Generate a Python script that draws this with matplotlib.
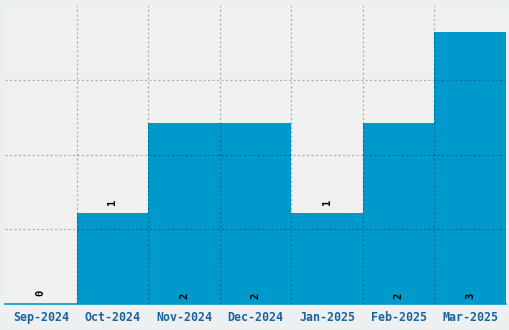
import matplotlib
matplotlib.use("Agg")
import matplotlib.pyplot as plt
import numpy as np

categories = ["Sep-2024", "Oct-2024", "Nov-2024", "Dec-2024", "Jan-2025", "Feb-2025", "Mar-2025"]
values = [0, 1, 2, 2, 1, 2, 3]

fig = plt.figure(figsize=(5.1, 3.3), dpi=100, facecolor="#edf0f1")
ax = fig.add_axes([5/510, 26/330, 501/510, 299/330])
ax.set_facecolor("#f0f0f0")

x = np.arange(len(categories))
ax.bar(x, values, width=1.0, color="#0099cc", zorder=1)

ax.set_xlim(-0.5, len(categories) - 0.5)
ax.set_ylim(0, 3.3)
ax.set_xticks(x)
ax.set_xticklabels(categories, fontfamily="DejaVu Sans Mono", fontweight="bold",
                   fontsize=8.4, color="#1a649c")
ax.set_xticks(x[:-1] + 0.5, minor=True)
ax.set_yticks([3.3 / 4 * i for i in range(1, 4)])
ax.set_yticklabels([])
ax.tick_params(axis="both", which="both", length=0)
ax.tick_params(axis="x", pad=5)

ax.grid(False)
grid_style = dict(color="k", alpha=0.25, linewidth=0.9, linestyle=(0, (1.8, 1.8)))
ax.xaxis.grid(True, which="minor", **grid_style)
ax.yaxis.grid(True, which="major", **grid_style)
ax.set_axisbelow(False)

for s in ["top", "right", "left"]:
    ax.spines[s].set_visible(False)
ax.spines["bottom"].set_color("#0099cc")
ax.spines["bottom"].set_linewidth(1.2)

for xi, v in zip(x, values):
    if v <= 1:
        ax.annotate(str(v), (xi, v), xytext=(0, 8), textcoords="offset points",
                    rotation=90, ha="center", va="center",
                    fontfamily="DejaVu Sans Mono", fontweight="bold", fontsize=7.5, color="black")
    else:
        ax.annotate(str(v), (xi, 0), xytext=(0, 6), textcoords="offset points",
                    rotation=90, ha="center", va="center",
                    fontfamily="DejaVu Sans Mono", fontweight="bold", fontsize=7.5, color="black")

fig.savefig("out.png", dpi=100, facecolor=fig.get_facecolor())
